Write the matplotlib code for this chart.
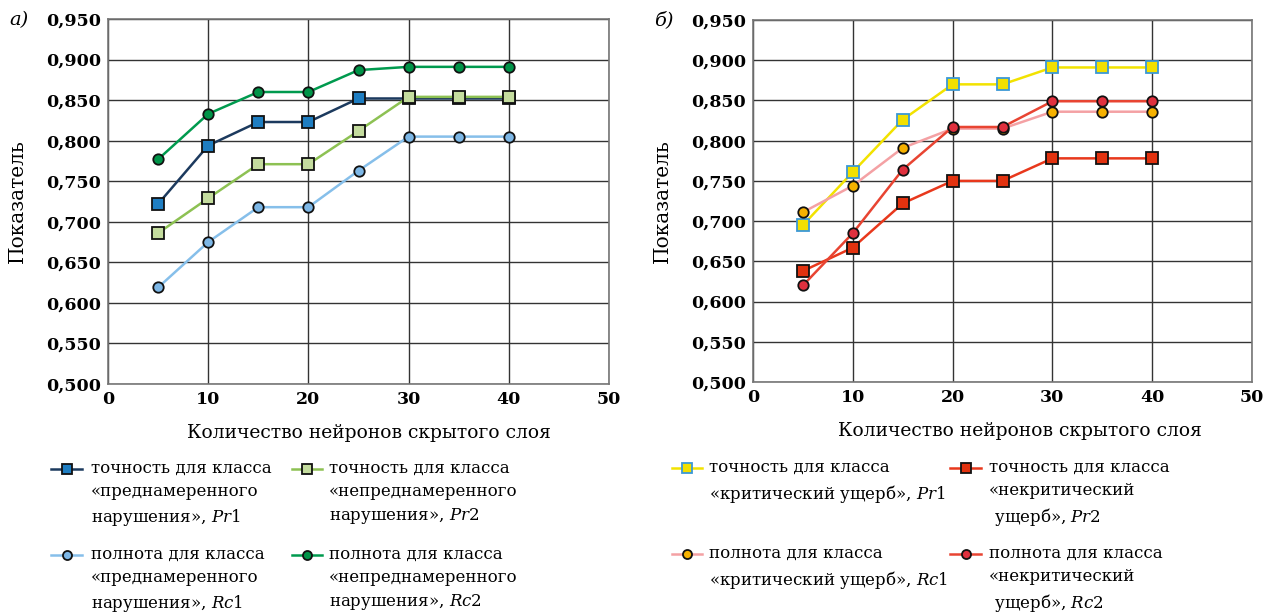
import matplotlib
matplotlib.use("Agg")
import matplotlib.pyplot as plt
from matplotlib.lines import Line2D
from matplotlib.ticker import FuncFormatter

plt.rcParams['font.family'] = ['DejaVu Serif']
plt.rcParams['mathtext.fontset'] = 'dejavuserif'

# число нейронов скрытого слоя
neurons = [5, 10, 15, 20, 25, 30, 35, 40]

# а) преднамеренное / непреднамеренное нарушение
a_pr1 = [0.722, 0.794, 0.823, 0.823, 0.852, 0.852, 0.852, 0.852]
a_pr2 = [0.686, 0.729, 0.771, 0.771, 0.812, 0.854, 0.854, 0.854]
a_rc1 = [0.619, 0.675, 0.718, 0.718, 0.763, 0.805, 0.805, 0.805]
a_rc2 = [0.777, 0.833, 0.860, 0.860, 0.887, 0.891, 0.891, 0.891]

# б) критический / некритический ущерб
b_pr1 = [0.695, 0.761, 0.826, 0.870, 0.870, 0.891, 0.891, 0.891]
b_pr2 = [0.638, 0.667, 0.722, 0.750, 0.750, 0.778, 0.778, 0.778]
b_rc1 = [0.711, 0.744, 0.791, 0.815, 0.815, 0.836, 0.836, 0.836]
b_rc2 = [0.620, 0.685, 0.764, 0.817, 0.817, 0.849, 0.849, 0.849]

labels_a = [
    "точность для класса\n«преднамеренного\nнарушения», $\\mathit{Pr}$1",
    "точность для класса\n«непреднамеренного\nнарушения», $\\mathit{Pr}$2",
    "полнота для класса\n«преднамеренного\nнарушения», $\\mathit{Rc}$1",
    "полнота для класса\n«непреднамеренного\nнарушения», $\\mathit{Rc}$2",
]
labels_b = [
    "точность для класса\n«критический ущерб», $\\mathit{Pr}$1",
    "точность для класса\n«некритический\n ущерб», $\\mathit{Pr}$2",
    "полнота для класса\n«критический ущерб», $\\mathit{Rc}$1",
    "полнота для класса\n«некритический\n ущерб», $\\mathit{Rc}$2",
]

W, H = 1288, 615
fig = plt.figure(figsize=(W / 100, H / 100), dpi=100)


def px(x0, y0, x1, y1):
    # пиксели -> доли фигуры
    return [x0 / W, 1 - y1 / H, (x1 - x0) / W, (y1 - y0) / H]


def style_axes(ax, xlab_x):
    ax.set_xlim(0, 50)
    ax.set_ylim(0.5, 0.95)
    ax.set_xticks(range(0, 51, 10))
    ax.set_yticks([0.5 + 0.05 * i for i in range(10)])
    ax.yaxis.set_major_formatter(FuncFormatter(lambda v, p: f"{v:.3f}".replace(".", ",")))
    ax.grid(True, color="#333333", linewidth=1.0)
    ax.set_axisbelow(True)
    ax.tick_params(length=0, labelsize=12.5, pad=5)
    for lab in ax.get_xticklabels() + ax.get_yticklabels():
        lab.set_fontweight("bold")
    for s in ax.spines.values():
        s.set_color("#777777")
        s.set_linewidth(1.2)
    ax.set_ylabel("Показатель", fontsize=14.5)
    ax.yaxis.set_label_coords(-0.162, 0.5)
    ax.set_xlabel("Количество нейронов скрытого слоя", fontsize=13.5)
    ax.xaxis.set_label_coords(xlab_x, -0.11)


# стиль серий: (цвет линии, маркер, заливка, обводка)
styles_a = [
    ("#1c3a5e", "s", "#1f7ec2", "#111111"),
    ("#8dc153", "s", "#c4dc9e", "#111111"),
    ("#86bfea", "o", "#7db7e6", "#111111"),
    ("#009a4e", "o", "#009448", "#111111"),
]
styles_b = [
    ("#f2e200", "s", "#f2e000", "#3b98d6"),
    ("#e8381c", "s", "#e2320f", "#111111"),
    ("#f4a1a4", "o", "#f6b100", "#111111"),
    ("#e84432", "o", "#e0303e", "#111111"),
]


def draw(ax, series, styles):
    for ys, (lc, m, fc, ec) in zip(series, styles):
        ms = 8 if m == "s" else 7.5
        ax.plot(neurons, ys, color=lc, linewidth=1.8, marker=m, markersize=ms,
                markerfacecolor=fc, markeredgecolor=ec, markeredgewidth=1.3,
                zorder=3)


ax1 = fig.add_axes(px(108, 19, 609, 384))
style_axes(ax1, 0.521)
draw(ax1, [a_pr1, a_pr2, a_rc1, a_rc2], styles_a)

ax2 = fig.add_axes(px(753, 20, 1252, 382))
style_axes(ax2, 0.535)
draw(ax2, [b_pr1, b_pr2, b_rc1, b_rc2], styles_b)

fig.text(9 / W, 1 - 20 / H, "а)", fontsize=14, style="italic", va="center")
fig.text(654 / W, 1 - 20 / H, "б)", fontsize=14, style="italic", va="center")


def legend_entry(hx0, hx1, tx, ty, label, st):
    lc, m, fc, ec = st
    ms = 7 if m == "s" else 6.5
    y = 1 - ty / H
    fig.add_artist(Line2D([hx0 / W, hx1 / W], [y, y], color=lc, linewidth=1.8))
    fig.add_artist(Line2D([(hx0 + hx1) / 2 / W], [y], marker=m, markersize=ms,
                          markerfacecolor=fc, markeredgecolor=ec,
                          markeredgewidth=1.3, linestyle="none"))
    fig.text(tx / W, y + 9 / H, label, fontsize=12, va="top", ha="left",
             linespacing=1.45)


# порядок в легенде: Pr1, Pr2 / Rc1, Rc2
pos_a = [(51, 82, 91, 469), (292, 322, 329, 469), (51, 82, 91, 555), (292, 322, 329, 555)]
for (hx0, hx1, tx, ty), i in zip(pos_a, [0, 1, 2, 3]):
    legend_entry(hx0, hx1, tx, ty, labels_a[i], styles_a[i])

pos_b = [(672, 702, 709, 468), (950, 981, 989, 468), (672, 702, 709, 554), (950, 981, 989, 554)]
for (hx0, hx1, tx, ty), i in zip(pos_b, [0, 1, 2, 3]):
    legend_entry(hx0, hx1, tx, ty, labels_b[i], styles_b[i])

fig.savefig("out.png", dpi=100)
